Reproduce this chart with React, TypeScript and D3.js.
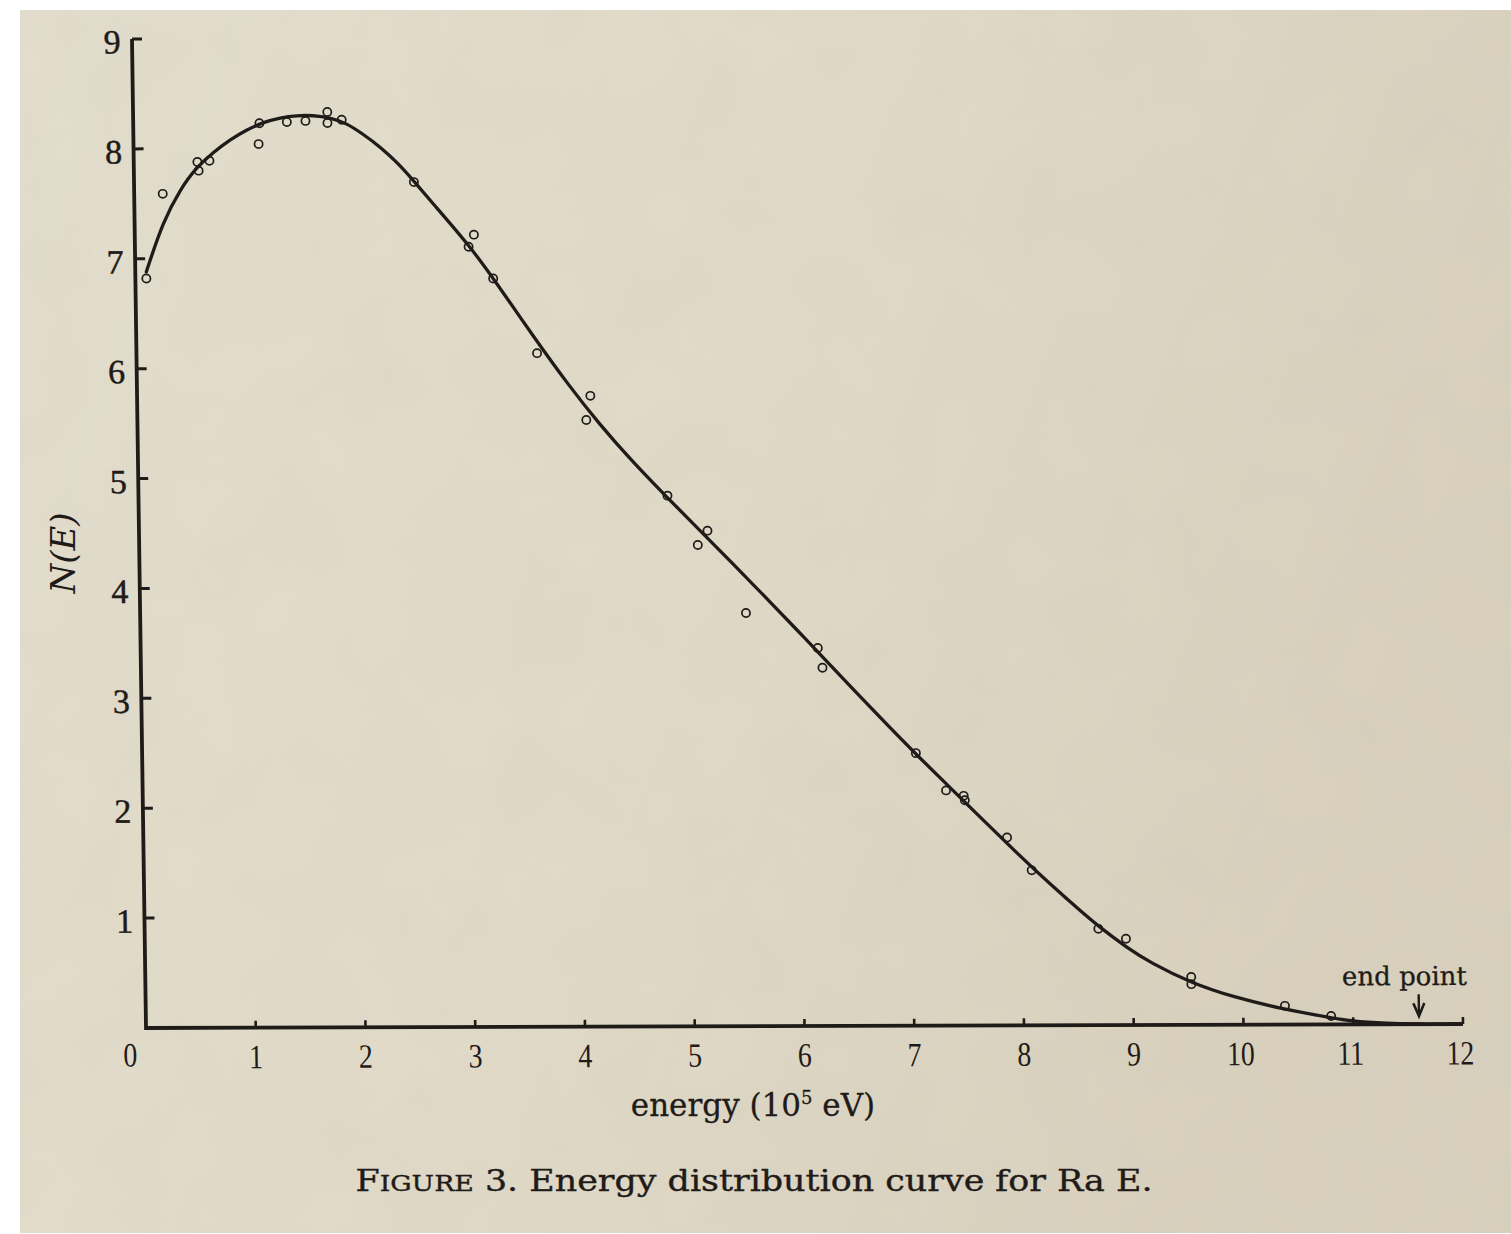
import React from "react";
import * as d3 from "d3";

// Axis ticks
const xTickValues = [1, 2, 3, 4, 5, 6, 7, 8, 9, 10, 11, 12];
const yTickValues = [1, 2, 3, 4, 5, 6, 7, 8, 9];

// Measured spectrum points: energy (10^5 eV) and N(E)
const measuredEnergy = [
  0.1, 0.26, 0.58, 0.59, 0.69, 1.14, 1.15, 1.4, 1.57, 1.77, 1.77, 1.9, 2.55,
  3.04, 3.09, 3.26, 3.65, 4.09, 4.13, 4.82, 5.09, 5.18, 5.52, 6.17, 6.21, 7.05,
  7.32, 7.48, 7.49, 7.87, 8.09, 8.69, 8.94, 9.53, 9.53, 10.38, 10.8,
];
const measuredCount = [
  6.82, 7.59, 7.88, 7.8, 7.89, 8.04, 8.23, 8.24, 8.25, 8.33, 8.23, 8.26, 7.69,
  7.1, 7.21, 6.81, 6.13, 5.52, 5.74, 4.83, 4.38, 4.51, 3.76, 3.44, 3.26, 2.48,
  2.14, 2.09, 2.05, 1.71, 1.41, 0.876, 0.785, 0.435, 0.37, 0.17, 0.076,
];

// Smooth distribution curve drawn through the measurements
const curveEnergy = [
  0.1, 0.26, 0.42, 0.57, 0.73, 0.88, 1.03, 1.19, 1.34, 1.49, 1.64, 1.79, 1.94,
  2.09, 2.25, 2.4, 2.55, 2.69, 3.05, 3.29, 3.62, 3.92, 4.21, 4.51, 4.81, 5.11,
  5.41, 5.71, 6.01, 6.16, 6.76, 7.06, 7.48, 7.96, 8.26, 8.55, 8.7, 8.95, 9.16,
  9.53, 9.91, 10.36, 10.82, 10.97, 11.3, 11.65,
];
const curveCount = [
  6.88, 7.34, 7.63, 7.83, 7.97, 8.08, 8.17, 8.24, 8.28, 8.3, 8.3, 8.28, 8.23,
  8.13, 8.01, 7.87, 7.7, 7.53, 7.11, 6.77, 6.28, 5.855, 5.48, 5.135, 4.82, 4.514,
  4.205, 3.893, 3.575, 3.415, 2.77, 2.46, 2.044, 1.564, 1.282, 1.021, 0.893, 0.703,
  0.566, 0.381, 0.252, 0.14, 0.057, 0.03, 0.008, 0,
];

const endPointEnergy = 11.6;

const INK = "#1f1b18";
const SERIF = "'DejaVu Serif', 'Liberation Serif', serif";
const DIGITS = "'Liberation Serif', 'DejaVu Serif', serif";

export default function App() {
  const width = 1511;
  const height = 1234;

  // Local plot frame: origin at (E=0, N=0), y grows upward as negative.
  const x = d3.scaleLinear().domain([0, 12]).range([0, 1317]);
  const y = d3.scaleLinear().domain([0, 9]).range([0, -989]);
  // The printed frame sits slightly sheared on the page.
  const frame = "matrix(1,-0.00304,0.01416,1,146,1028)";

  const line = d3
    .line<[number, number]>()
    .x((d) => x(d[0]))
    .y((d) => y(d[1]))
    .curve(d3.curveBasis);

  const curvePoints: [number, number][] = curveEnergy.map((e, i) => [e, curveCount[i]]);
  const axisPath = `M${x(0)},${y(9)}L${x(0)},${y(0)}L${x(12)},${y(0)}`;
  const ex = x(endPointEnergy);

  return (
    <svg
      width={width}
      height={height}
      viewBox={`0 0 ${width} ${height}`}
      style={{ position: "absolute", left: 0, top: 0, display: "block" }}
    >
      <defs>
        <linearGradient id="paper" x1="0" y1="0" x2="1" y2="0.3">
          <stop offset="0" stopColor="#e4dece" />
          <stop offset="0.55" stopColor="#e1dac8" />
          <stop offset="1" stopColor="#d9d1be" />
        </linearGradient>
        <filter id="grain" x="0" y="0" width="100%" height="100%">
          <feTurbulence type="fractalNoise" baseFrequency="0.012" numOctaves="3" seed="7" />
          <feColorMatrix
            type="matrix"
            values="0 0 0 0 0.45  0 0 0 0 0.42  0 0 0 0 0.36  0 0 0 0.09 0"
          />
        </filter>
      </defs>
      <rect x={0} y={0} width={width} height={height} fill="#ffffff" />
      <rect x={20} y={10} width={width - 20} height={1223} fill="url(#paper)" />
      <rect x={20} y={10} width={width - 20} height={1223} filter="url(#grain)" />

      <g transform={frame}>
        {/* axes */}
        <path d={axisPath} fill="none" stroke={INK} strokeWidth={3.8} strokeLinejoin="miter" />
        {yTickValues.map((v) => (
          <line key={`yt${v}`} x1={0} x2={10} y1={y(v)} y2={y(v)} stroke={INK} strokeWidth={3} />
        ))}
        {xTickValues.map((v) => (
          <line key={`xt${v}`} x1={x(v)} x2={x(v)} y1={0} y2={-7} stroke={INK} strokeWidth={2.6} />
        ))}

        {/* tick labels */}
        {yTickValues.map((v) => (
          <text
            key={`yl${v}`}
            x={-20}
            y={y(v) + 3}
            textAnchor="middle"
            dominantBaseline="central"
            fontFamily={DIGITS}
            fontSize={34}
            fill={INK}
            stroke={INK}
            strokeWidth={0.5}
          >
            {v}
          </text>
        ))}
        <text
          x={-16}
          y={27}
          textAnchor="middle"
          dominantBaseline="central"
          fontFamily={DIGITS}
          fontSize={34}
          fill={INK}
          transform="scale(0.82,1) translate(-3.5,0)"
        >
          0
        </text>
        {xTickValues.map((v) => (
          <text
            key={`xl${v}`}
            textAnchor="middle"
            dominantBaseline="central"
            fontFamily={DIGITS}
            fontSize={34}
            fill={INK}
            transform={`translate(${x(v) - (v >= 10 ? 3 : 0)},29) scale(0.82,1)`}
          >
            {v}
          </text>
        ))}

        {/* fitted curve */}
        <path d={line(curvePoints) ?? ""} fill="none" stroke={INK} strokeWidth={3.3} strokeLinecap="round" />

        {/* measurements */}
        {measuredEnergy.map((e, i) => (
          <circle
            key={`p${i}`}
            cx={x(e)}
            cy={y(measuredCount[i])}
            r={4.1}
            fill="none"
            stroke={INK}
            strokeWidth={1.7}
          />
        ))}

        {/* end point marker */}
        <line x1={ex} x2={ex} y1={-30} y2={-10} stroke={INK} strokeWidth={2.4} />
        <path d={`M${ex - 5.5},${-21}L${ex},${-8}L${ex + 5.5},${-21}`} fill="none" stroke={INK} strokeWidth={2.6} />
        <text
          x={ex - 14}
          y={-39}
          textAnchor="middle"
          fontFamily={SERIF}
          fontSize={26}
          fill={INK}
          stroke={INK}
          strokeWidth={0.3}
        >
          end point
        </text>
      </g>

      {/* axis titles */}
      <text
        x={753}
        y={1116}
        textAnchor="middle"
        fontFamily={SERIF}
        fontSize={31}
        fill={INK}
        stroke={INK}
        strokeWidth={0.3}
      >
        energy (10
        <tspan fontSize={18} dy={-12}>
          5
        </tspan>
        <tspan dy={12}> eV)</tspan>
      </text>
      <text
        transform="translate(75,553) rotate(-90)"
        textAnchor="middle"
        fontFamily={SERIF}
        fontStyle="italic"
        fontSize={34}
        fill={INK}
      >
        N(E)
      </text>

      {/* caption */}
      <text
        x={754}
        y={1191}
        textAnchor="middle"
        fontFamily={SERIF}
        fontSize={30}
        fill={INK}
        stroke={INK}
        strokeWidth={0.4}
        textLength={797}
        lengthAdjust="spacingAndGlyphs"
      >
        F<tspan fontSize={23}>IGURE</tspan> 3.{"  "}Energy distribution curve for Ra E.
      </text>
    </svg>
  );
}
